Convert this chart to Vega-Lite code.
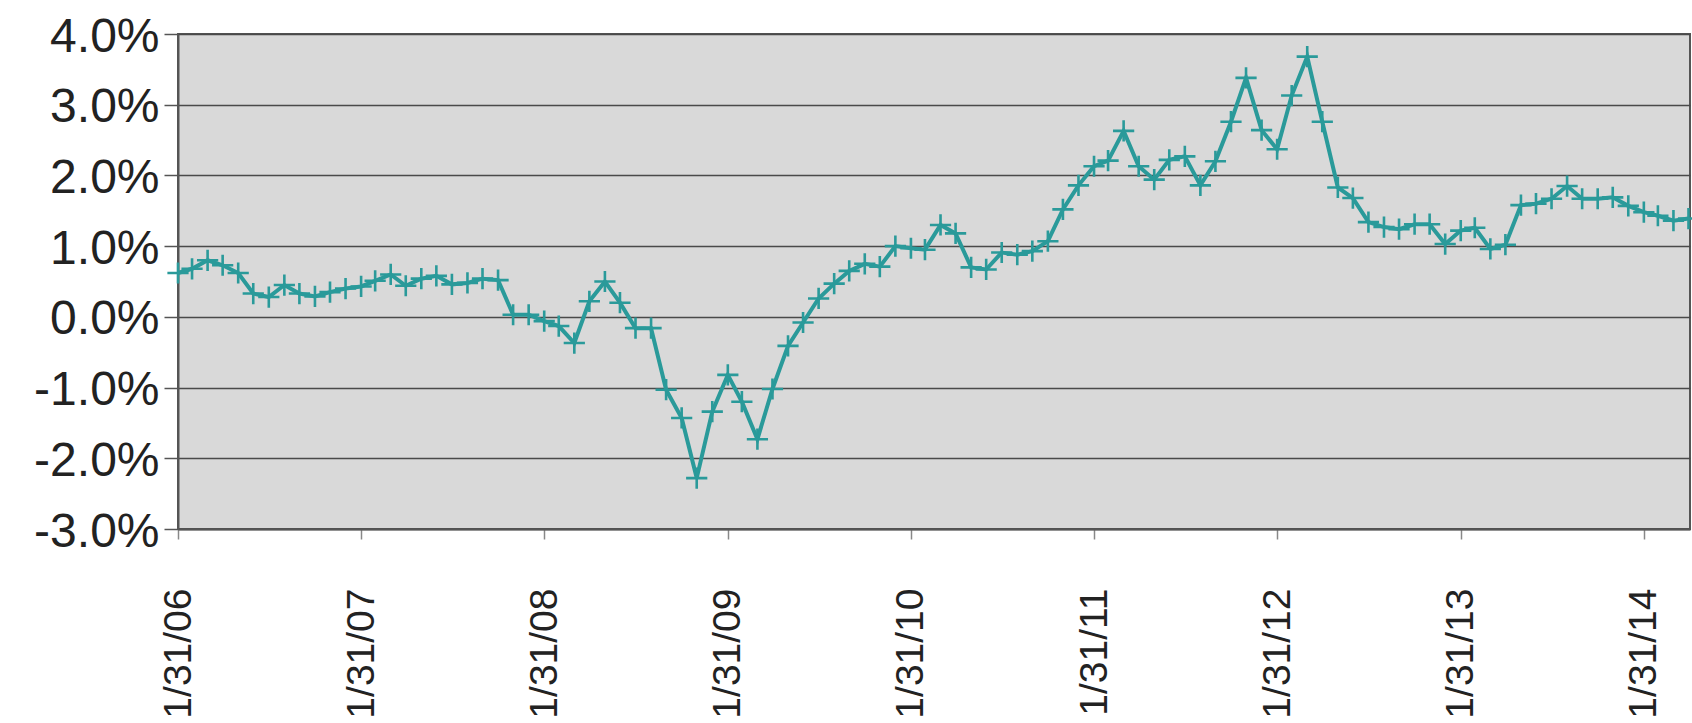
{
  "$schema": "https://vega.github.io/schema/vega-lite/v6.json",
  "width": 1512,
  "height": 495,
  "autosize": {"type": "none"},
  "padding": {"left": 178, "top": 34, "right": 2, "bottom": 194},
  "background": "#ffffff",
  "config": {
    "view": {"fill": "#d9d9d9", "stroke": "#555555", "strokeWidth": 2},
    "font": "Liberation Sans"
  },
  "data": {"values": [
    {"d": "2006-01-31", "v": 0.62}, {"d": "2006-02-28", "v": 0.68}, {"d": "2006-03-31", "v": 0.80}, {"d": "2006-04-30", "v": 0.73},
    {"d": "2006-05-31", "v": 0.62}, {"d": "2006-06-30", "v": 0.33}, {"d": "2006-07-31", "v": 0.28}, {"d": "2006-08-31", "v": 0.45},
    {"d": "2006-09-30", "v": 0.33}, {"d": "2006-10-31", "v": 0.29}, {"d": "2006-11-30", "v": 0.35}, {"d": "2006-12-31", "v": 0.40},
    {"d": "2007-01-31", "v": 0.43}, {"d": "2007-02-28", "v": 0.51}, {"d": "2007-03-31", "v": 0.60}, {"d": "2007-04-30", "v": 0.44},
    {"d": "2007-05-31", "v": 0.54}, {"d": "2007-06-30", "v": 0.58}, {"d": "2007-07-31", "v": 0.46}, {"d": "2007-08-31", "v": 0.48},
    {"d": "2007-09-30", "v": 0.54}, {"d": "2007-10-31", "v": 0.52}, {"d": "2007-11-30", "v": 0.03}, {"d": "2007-12-31", "v": 0.03},
    {"d": "2008-01-31", "v": -0.06}, {"d": "2008-02-29", "v": -0.13}, {"d": "2008-03-31", "v": -0.37}, {"d": "2008-04-30", "v": 0.22},
    {"d": "2008-05-31", "v": 0.50}, {"d": "2008-06-30", "v": 0.20}, {"d": "2008-07-31", "v": -0.16}, {"d": "2008-08-31", "v": -0.16},
    {"d": "2008-09-30", "v": -1.03}, {"d": "2008-10-31", "v": -1.43}, {"d": "2008-11-30", "v": -2.28}, {"d": "2008-12-31", "v": -1.34},
    {"d": "2009-01-31", "v": -0.82}, {"d": "2009-02-28", "v": -1.20}, {"d": "2009-03-31", "v": -1.73}, {"d": "2009-04-30", "v": -1.02},
    {"d": "2009-05-31", "v": -0.41}, {"d": "2009-06-30", "v": -0.08}, {"d": "2009-07-31", "v": 0.26}, {"d": "2009-08-31", "v": 0.47},
    {"d": "2009-09-30", "v": 0.65}, {"d": "2009-10-31", "v": 0.75}, {"d": "2009-11-30", "v": 0.71}, {"d": "2009-12-31", "v": 1.00},
    {"d": "2010-01-31", "v": 0.97}, {"d": "2010-02-28", "v": 0.95}, {"d": "2010-03-31", "v": 1.30}, {"d": "2010-04-30", "v": 1.18},
    {"d": "2010-05-31", "v": 0.70}, {"d": "2010-06-30", "v": 0.67}, {"d": "2010-07-31", "v": 0.91}, {"d": "2010-08-31", "v": 0.88},
    {"d": "2010-09-30", "v": 0.93}, {"d": "2010-10-31", "v": 1.07}, {"d": "2010-11-30", "v": 1.52}, {"d": "2010-12-31", "v": 1.86},
    {"d": "2011-01-31", "v": 2.13}, {"d": "2011-02-28", "v": 2.21}, {"d": "2011-03-31", "v": 2.63}, {"d": "2011-04-30", "v": 2.13},
    {"d": "2011-05-31", "v": 1.94}, {"d": "2011-06-30", "v": 2.22}, {"d": "2011-07-31", "v": 2.27}, {"d": "2011-08-31", "v": 1.86},
    {"d": "2011-09-30", "v": 2.20}, {"d": "2011-10-31", "v": 2.76}, {"d": "2011-11-30", "v": 3.38}, {"d": "2011-12-31", "v": 2.64},
    {"d": "2012-01-31", "v": 2.37}, {"d": "2012-02-29", "v": 3.13}, {"d": "2012-03-31", "v": 3.68}, {"d": "2012-04-30", "v": 2.76},
    {"d": "2012-05-31", "v": 1.83}, {"d": "2012-06-30", "v": 1.68}, {"d": "2012-07-31", "v": 1.34}, {"d": "2012-08-31", "v": 1.27},
    {"d": "2012-09-30", "v": 1.24}, {"d": "2012-10-31", "v": 1.31}, {"d": "2012-11-30", "v": 1.31}, {"d": "2012-12-31", "v": 1.03},
    {"d": "2013-01-31", "v": 1.22}, {"d": "2013-02-28", "v": 1.26}, {"d": "2013-03-31", "v": 0.96}, {"d": "2013-04-30", "v": 1.02},
    {"d": "2013-05-31", "v": 1.58}, {"d": "2013-06-30", "v": 1.60}, {"d": "2013-07-31", "v": 1.67}, {"d": "2013-08-31", "v": 1.85},
    {"d": "2013-09-30", "v": 1.67}, {"d": "2013-10-31", "v": 1.67}, {"d": "2013-11-30", "v": 1.69}, {"d": "2013-12-31", "v": 1.57},
    {"d": "2014-01-31", "v": 1.48}, {"d": "2014-02-28", "v": 1.43}, {"d": "2014-03-31", "v": 1.36}, {"d": "2014-04-30", "v": 1.39}
  ]},
  "encoding": {
    "x": {
      "field": "d", "type": "temporal", "title": null,
      "scale": {"type": "utc", "domain": [{"year": 2006, "month": 1, "date": 31, "utc": true}, {"year": 2014, "month": 5, "date": 3, "utc": true}]},
      "axis": {
        "values": [
          {"year": 2006, "month": 1, "date": 31, "utc": true}, {"year": 2007, "month": 1, "date": 31, "utc": true},
          {"year": 2008, "month": 1, "date": 31, "utc": true}, {"year": 2009, "month": 1, "date": 31, "utc": true},
          {"year": 2010, "month": 1, "date": 31, "utc": true}, {"year": 2011, "month": 1, "date": 31, "utc": true},
          {"year": 2012, "month": 1, "date": 31, "utc": true}, {"year": 2013, "month": 1, "date": 31, "utc": true},
          {"year": 2014, "month": 1, "date": 31, "utc": true}
        ],
        "format": "%-m/%d/%y",
        "labelAngle": -90,
        "labelAlign": "right",
        "labelBaseline": "middle",
        "labelFontSize": 39,
        "labelColor": "#222222",
        "labelPadding": 49,
        "labelFlush": false,
        "labelOverlap": false,
        "tickSize": 10,
        "tickColor": "#888888",
        "tickWidth": 1.5,
        "domainColor": "#555555",
        "domainWidth": 2,
        "grid": false
      }
    },
    "y": {
      "field": "v", "type": "quantitative", "title": null,
      "scale": {"domain": [-3, 4], "nice": false, "zero": false},
      "axis": {
        "values": [-3, -2, -1, 0, 1, 2, 3, 4],
        "labelExpr": "(datum.value < 0 ? '-' : '') + format(abs(datum.value), '.1f') + '%'",
        "labelFontSize": 48,
        "labelColor": "#222222",
        "labelPadding": 5,
        "labelOffset": 3,
        "tickSize": 14,
        "tickColor": "#555555",
        "tickWidth": 1.5,
        "domainColor": "#555555",
        "domainWidth": 2,
        "grid": true,
        "gridColor": "#4a4a4a",
        "gridWidth": 1.6,
        "gridOpacity": 1
      }
    }
  },
  "layer": [
    {"mark": {"type": "line", "color": "#2a9a9a", "strokeWidth": 4}},
    {"mark": {"type": "point", "shape": "M-1,0L1,0M0,-1L0,1", "filled": false, "stroke": "#2a9a9a", "strokeWidth": 2.6, "size": 450, "opacity": 1}}
  ]
}
